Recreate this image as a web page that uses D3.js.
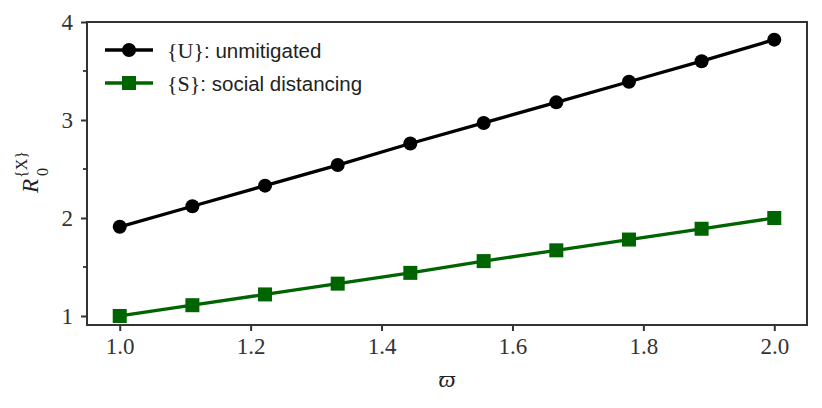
<!DOCTYPE html>
<html>
<head>
<meta charset="utf-8">
<script src="https://cdn.jsdelivr.net/npm/d3@7"></script>
<style>
  body { margin: 0; background: #fff; }
  .legend text { font-family: "Liberation Sans", Arial, sans-serif; font-size: 20.5px; fill: #222; }
</style>
</head>
<body>
<div id="chart"></div>
<script>
const width = 822;
const height = 408;
const margin = { top: 22, right: 15, bottom: 83, left: 87 };

const omega = [1.0, 1.111, 1.222, 1.333, 1.444, 1.556, 1.667, 1.778, 1.889, 2.0];
const unmitigated = [1.91, 2.12, 2.33, 2.54, 2.76, 2.97, 3.18, 3.39, 3.60, 3.82];
const socialDistancing = [1.0, 1.11, 1.22, 1.33, 1.44, 1.56, 1.67, 1.78, 1.89, 2.0];
const xTicks = [1.0, 1.2, 1.4, 1.6, 1.8, 2.0];
const yTicks = [1, 2, 3, 4];
const yMinorTicks = [1.5, 2.5, 3.5];

const svg = d3.select("#chart")
  .append("svg")
  .attr("width", width)
  .attr("height", height);

const x = d3.scaleLinear()
  .domain([0.95, 2.05])
  .range([margin.left, width - margin.right]);

const y = d3.scaleLinear()
  .domain([0.908, 4.0])
  .range([height - margin.bottom, margin.top]);

const axisColor = "#333";

function styleAxis(g) {
  g.select(".domain").remove();
  g.selectAll(".tick line").attr("stroke", axisColor).attr("stroke-width", 2);
  g.selectAll(".tick text")
    .attr("fill", "#333")
    .style("font-family", "'Liberation Serif', 'DejaVu Serif', serif")
    .style("font-size", "23px");
}

// x axis
svg.append("g")
  .attr("transform", `translate(0,${height - margin.bottom})`)
  .call(d3.axisBottom(x).tickValues(xTicks).tickFormat(d3.format(".1f")).tickSize(6).tickPadding(7))
  .call(styleAxis);

// y axis
svg.append("g")
  .attr("transform", `translate(${margin.left},0)`)
  .call(d3.axisLeft(y).tickValues(yTicks).tickFormat(d3.format("d")).tickSize(6).tickPadding(8))
  .call(styleAxis);

// minor y ticks
svg.append("g")
  .selectAll("line")
  .data(yMinorTicks)
  .enter()
  .append("line")
  .attr("x1", margin.left - 4)
  .attr("x2", margin.left)
  .attr("y1", d => y(d))
  .attr("y2", d => y(d))
  .attr("stroke", axisColor)
  .attr("stroke-width", 1.8);

// frame
svg.append("rect")
  .attr("x", margin.left)
  .attr("y", margin.top)
  .attr("width", width - margin.left - margin.right)
  .attr("height", height - margin.top - margin.bottom)
  .attr("fill", "none")
  .attr("stroke", axisColor)
  .attr("stroke-width", 2);

const line = d3.line()
  .x(d => x(d[0]))
  .y(d => y(d[1]));

const uData = omega.map((w, i) => [w, unmitigated[i]]);
const sData = omega.map((w, i) => [w, socialDistancing[i]]);

// unmitigated
svg.append("path")
  .datum(uData)
  .attr("d", line)
  .attr("fill", "none")
  .attr("stroke", "black")
  .attr("stroke-width", 3.3);

svg.selectAll(".u-marker")
  .data(uData)
  .enter()
  .append("circle")
  .attr("class", "u-marker")
  .attr("cx", d => x(d[0]))
  .attr("cy", d => y(d[1]))
  .attr("r", 7)
  .attr("fill", "black");

// social distancing
svg.append("path")
  .datum(sData)
  .attr("d", line)
  .attr("fill", "none")
  .attr("stroke", "#006400")
  .attr("stroke-width", 3.3);

svg.selectAll(".s-marker")
  .data(sData)
  .enter()
  .append("rect")
  .attr("class", "s-marker")
  .attr("x", d => x(d[0]) - 7)
  .attr("y", d => y(d[1]) - 7)
  .attr("width", 14)
  .attr("height", 14)
  .attr("fill", "#006400");

// legend
const legend = svg.append("g").attr("class", "legend");
const entries = [
  { key: "U", label: ": unmitigated", color: "black", shape: "circle" },
  { key: "S", label: ": social distancing", color: "#006400", shape: "square" }
];
entries.forEach((e, i) => {
  const yy = 50 + i * 33;
  legend.append("line")
    .attr("x1", 105).attr("x2", 153)
    .attr("y1", yy).attr("y2", yy)
    .attr("stroke", e.color).attr("stroke-width", 3.3);
  if (e.shape === "circle") {
    legend.append("circle").attr("cx", 129).attr("cy", yy).attr("r", 7).attr("fill", e.color);
  } else {
    legend.append("rect").attr("x", 122).attr("y", yy - 7).attr("width", 14).attr("height", 14).attr("fill", e.color);
  }
  const t = legend.append("text").attr("x", 167).attr("y", yy + 8);
  t.append("tspan")
    .style("font-family", "'Liberation Serif', serif")
    .style("font-size", "22px")
    .text(`{${e.key}}`);
  t.append("tspan").text(e.label);
});

// x label
svg.append("text")
  .attr("x", (margin.left + width - margin.right) / 2)
  .attr("y", 387)
  .attr("text-anchor", "middle")
  .style("font-family", "'Liberation Serif', 'DejaVu Serif', serif")
  .style("font-style", "italic")
  .style("font-size", "24px")
  .attr("fill", "#222")
  .text("ϖ");

// y label
const yl = svg.append("g")
  .attr("transform", "translate(38,173) rotate(-90)")
  .style("font-family", "'Liberation Serif', serif")
  .attr("fill", "#222");
yl.append("text")
  .attr("x", -20).attr("y", 0)
  .style("font-style", "italic")
  .style("font-size", "23px")
  .text("R");
yl.append("text")
  .attr("x", -3).attr("y", 10)
  .style("font-size", "16px")
  .text("0");
yl.append("text")
  .attr("x", -5).attr("y", -11)
  .style("font-size", "16px")
  .text("{X}");
</script>
</body>
</html>
